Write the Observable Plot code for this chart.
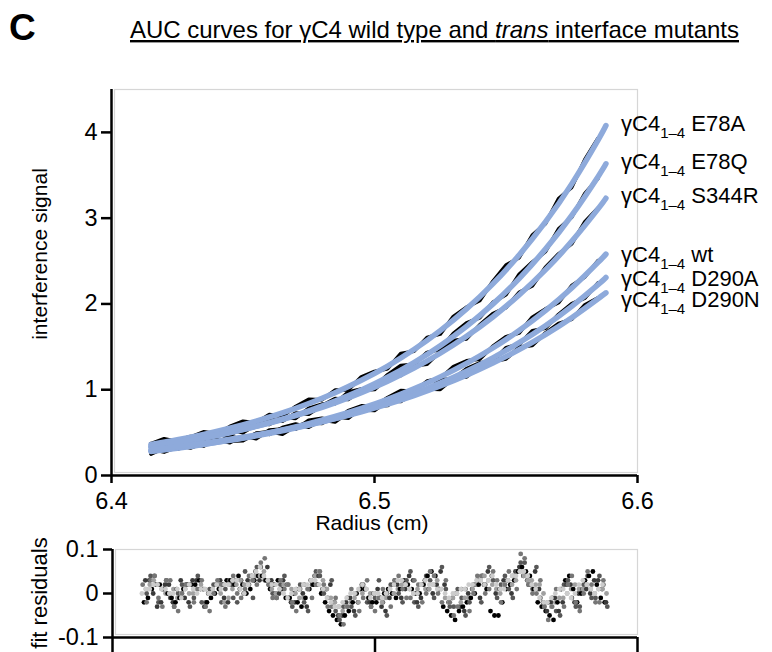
<!DOCTYPE html>
<html><head><meta charset="utf-8">
<script src="https://cdn.jsdelivr.net/npm/d3@7"></script>
<script src="https://cdn.jsdelivr.net/npm/@observablehq/plot@0.6"></script>
<style>
body{margin:0;background:#fff;}
#wrap{width:772px;height:652px;overflow:hidden;background:#fff;}
#wrap svg{display:block;}
</style></head><body>
<div id="wrap"></div>
<script>
// ---------- data ----------
const seriesNames = ["E78A","E78Q","S344R","wt","D290A","D290N"];

// fitted curves (interference signal vs radius)
const fitRadius = [6.415,6.425,6.435,6.445,6.455,6.465,6.475,6.485,6.495,6.505,6.515,6.525,6.535,6.545,6.555,6.565,6.575,6.585,6.588];
const fitE78A  = [0.362,0.416,0.479,0.551,0.634,0.729,0.839,0.965,1.110,1.276,1.468,1.689,1.942,2.234,2.570,2.956,3.400,3.911,4.080];
const fitE78Q  = [0.328,0.377,0.433,0.498,0.572,0.657,0.755,0.868,0.997,1.146,1.317,1.513,1.739,1.998,2.296,2.639,3.032,3.484,3.634];
const fitS344R = [0.341,0.388,0.442,0.504,0.574,0.653,0.744,0.847,0.965,1.099,1.251,1.425,1.623,1.848,2.105,2.397,2.730,3.108,3.232];
const fitWt    = [0.280,0.318,0.362,0.412,0.468,0.532,0.605,0.688,0.782,0.889,1.011,1.150,1.307,1.486,1.690,1.922,2.185,2.484,2.581];
const fitD290A = [0.285,0.322,0.363,0.410,0.462,0.522,0.589,0.664,0.750,0.846,0.955,1.077,1.216,1.372,1.548,1.747,1.972,2.225,2.308];
const fitD290N = [0.300,0.336,0.376,0.422,0.472,0.529,0.592,0.663,0.743,0.832,0.932,1.044,1.169,1.310,1.467,1.643,1.840,2.061,2.130];

// raw scans
const dataRadius = [6.415,6.420,6.425,6.430,6.435,6.440,6.445,6.450,6.455,6.460,6.465,6.470,6.475,6.480,6.485,6.490,6.495,6.500,6.505,6.510,6.515,6.520,6.525,6.530,6.535,6.540,6.545,6.550,6.555,6.560,6.565,6.570,6.575,6.580,6.585];
const dataE78A  = [0.372,0.429,0.396,0.447,0.509,0.485,0.571,0.632,0.614,0.711,0.689,0.804,0.889,0.882,0.995,0.997,1.150,1.213,1.246,1.422,1.448,1.608,1.649,1.855,1.962,2.038,2.264,2.452,2.540,2.803,2.936,3.228,3.360,3.685,3.931];
const dataE78Q  = [0.308,0.383,0.387,0.375,0.473,0.486,0.468,0.565,0.622,0.595,0.677,0.666,0.785,0.832,0.838,0.973,1.007,1.032,1.176,1.282,1.297,1.435,1.473,1.656,1.779,1.839,2.018,2.107,2.346,2.488,2.609,2.876,3.012,3.288,3.464];
const dataS344R = [0.371,0.345,0.408,0.455,0.412,0.483,0.534,0.499,0.594,0.654,0.633,0.729,0.714,0.816,0.897,0.886,0.995,1.002,1.139,1.165,1.281,1.298,1.445,1.574,1.593,1.756,1.888,1.957,2.135,2.211,2.427,2.584,2.700,2.959,3.118];
const dataWt    = [0.250,0.319,0.358,0.320,0.382,0.417,0.382,0.460,0.428,0.530,0.542,0.539,0.645,0.667,0.638,0.755,0.812,0.806,0.909,0.990,0.981,1.101,1.130,1.269,1.337,1.357,1.506,1.618,1.660,1.846,1.942,2.014,2.215,2.315,2.504];
const dataD290A = [0.305,0.273,0.332,0.372,0.343,0.426,0.400,0.406,0.492,0.512,0.482,0.575,0.619,0.606,0.684,0.667,0.790,0.808,0.816,0.930,0.975,0.986,1.117,1.126,1.246,1.314,1.332,1.490,1.528,1.687,1.717,1.879,2.002,2.068,2.245];
const dataD290N = [0.290,0.348,0.306,0.376,0.406,0.379,0.462,0.417,0.492,0.480,0.559,0.600,0.562,0.647,0.623,0.733,0.763,0.757,0.872,0.862,0.962,1.008,1.004,1.136,1.149,1.279,1.330,1.358,1.497,1.515,1.663,1.771,1.820,1.990,2.071];

// fit residuals, two interleaved radial grids
const residRadiusA = [6.412,6.415,6.418,6.421,6.424,6.427,6.430,6.433,6.436,6.439,6.442,6.445,6.448,6.451,6.454,6.457,6.460,6.463,6.466,6.469,6.472,6.475,6.478,6.481,6.484,6.487,6.490,6.493,6.496,6.499,6.502,6.505,6.508,6.511,6.514,6.517,6.520,6.523,6.526,6.529,6.532,6.535,6.538,6.541,6.544,6.547,6.550,6.553,6.556,6.559,6.562,6.565,6.568,6.571,6.574,6.577,6.580,6.583,6.586];
const residRadiusB = [6.4135,6.4165,6.4195,6.4225,6.4255,6.4285,6.4315,6.4345,6.4375,6.4405,6.4435,6.4465,6.4495,6.4525,6.4555,6.4585,6.4615,6.4645,6.4675,6.4705,6.4735,6.4765,6.4795,6.4825,6.4855,6.4885,6.4915,6.4945,6.4975,6.5005,6.5035,6.5065,6.5095,6.5125,6.5155,6.5185,6.5215,6.5245,6.5275,6.5305,6.5335,6.5365,6.5395,6.5425,6.5455,6.5485,6.5515,6.5545,6.5575,6.5605,6.5635,6.5665,6.5695,6.5725,6.5755,6.5785,6.5815,6.5845,6.5875];
const scanRadialShift = [0, 0.0005, 0.0010, -0.0005, 0.0007, -0.0008];

const resid1A = [-0.02,0.01,0.02,0.00,-0.02,0.01,0.02,0.03,-0.02,0.00,0.02,0.03,0.04,0.00,0.03,0.04,0.01,0.03,-0.01,0.00,-0.03,0.01,0.02,-0.02,-0.05,-0.07,-0.04,0.00,0.01,-0.02,-0.01,0.01,-0.01,0.03,0.01,0.00,0.04,0.04,-0.03,-0.05,-0.04,-0.02,0.00,0.04,-0.04,-0.05,0.01,0.03,0.06,0.04,-0.02,-0.04,-0.06,0.01,0.04,-0.02,0.03,0.05,-0.01];
const resid2A = [0.03,0.00,-0.02,0.02,0.01,-0.01,0.03,0.01,0.00,0.02,-0.01,0.02,0.01,0.03,0.05,0.04,0.03,0.00,0.02,-0.02,0.00,0.03,0.04,0.01,-0.02,-0.05,-0.01,-0.02,0.01,0.00,-0.03,-0.01,0.02,0.01,0.03,-0.01,0.01,0.02,0.02,-0.01,-0.03,0.00,0.02,0.02,0.04,0.01,0.03,0.05,0.04,0.02,0.01,-0.04,-0.01,-0.02,0.02,0.00,0.01,0.03,0.01];
const resid3A = [0.00,0.04,0.01,-0.01,0.00,0.02,-0.01,-0.02,0.01,0.02,0.01,-0.01,0.03,0.02,0.06,0.03,0.00,0.02,-0.01,0.01,-0.02,0.02,0.04,-0.01,-0.04,-0.03,-0.03,0.01,-0.02,-0.01,-0.02,0.02,0.00,0.03,-0.02,0.02,0.03,0.01,0.01,-0.03,-0.01,-0.02,0.03,0.02,0.03,0.02,0.01,0.05,0.07,0.01,-0.01,-0.02,-0.04,0.02,-0.01,-0.03,0.04,-0.01,0.02];
const resid4A = [0.02,0.03,-0.01,0.03,-0.03,0.00,0.02,0.01,-0.03,0.00,0.02,0.02,0.00,0.01,0.03,0.07,0.02,-0.01,0.01,-0.02,0.01,0.01,0.02,0.02,-0.03,-0.05,-0.03,0.00,-0.01,-0.03,-0.01,0.00,0.03,0.01,-0.01,0.02,0.00,0.04,-0.02,-0.02,-0.03,0.01,0.00,0.04,0.01,0.03,0.02,0.04,0.09,0.02,0.00,-0.03,-0.03,0.01,0.02,-0.02,0.00,0.02,-0.02];
const resid5A = [0.01,0.03,0.01,0.00,-0.01,0.01,0.00,0.02,0.00,0.02,-0.02,0.01,0.03,0.02,0.04,0.05,0.01,0.01,0.02,0.00,-0.01,0.03,0.05,0.01,-0.02,-0.04,-0.02,-0.02,0.01,0.00,-0.02,0.01,0.01,0.02,0.00,0.02,0.01,0.03,-0.01,-0.01,-0.02,-0.01,0.02,0.04,0.02,0.00,0.03,0.03,0.04,0.03,0.02,-0.02,-0.02,-0.01,0.01,0.01,0.02,0.00,0.01];
const resid6A = [0.00,0.01,0.02,0.01,0.00,-0.01,0.02,0.00,0.01,0.01,0.01,0.02,0.03,0.00,0.04,0.06,0.03,0.02,0.00,0.00,0.01,0.02,0.03,0.01,-0.02,-0.03,-0.01,0.00,0.02,-0.01,0.00,0.00,0.02,0.03,0.01,0.00,0.03,0.02,0.01,-0.01,0.00,0.01,0.02,0.03,0.03,0.02,0.01,0.04,0.05,0.04,0.01,-0.02,-0.01,0.01,0.00,0.00,0.03,0.01,0.01];
const resid1B = [-0.01,0.02,0.01,-0.01,-0.01,0.02,0.02,0.01,-0.01,0.01,0.03,0.02,0.02,0.01,0.04,0.03,0.02,0.01,-0.01,-0.02,-0.01,0.02,0.00,-0.04,-0.06,-0.05,-0.02,0.01,-0.01,-0.02,0.00,0.00,0.01,0.02,0.00,0.02,0.05,0.01,-0.04,-0.06,-0.03,-0.01,0.02,0.01,-0.05,-0.02,0.02,0.05,0.05,0.01,-0.03,-0.05,-0.02,0.03,0.01,0.00,0.04,0.02,-0.02];
const resid2B = [0.03,-0.03,0.02,-0.02,0.03,-0.02,0.03,-0.03,0.01,0.03,-0.02,0.03,0.00,0.04,0.03,0.06,0.00,0.03,-0.02,0.01,-0.03,0.04,0.01,0.02,-0.05,-0.02,-0.04,0.02,-0.02,0.01,-0.04,0.02,-0.01,0.04,-0.02,0.03,0.00,0.05,-0.02,0.00,-0.04,0.01,-0.01,0.05,0.00,0.03,0.00,0.06,0.03,0.05,-0.02,-0.02,-0.04,0.02,-0.02,0.01,0.00,0.03,-0.02];
const resid3B = [0.04,-0.02,0.03,-0.03,0.02,-0.03,0.04,-0.02,0.02,-0.02,0.03,-0.02,0.05,-0.01,0.06,0.02,-0.01,0.04,-0.03,0.02,-0.04,0.05,0.00,0.03,-0.06,-0.01,-0.05,0.02,-0.03,0.03,-0.05,0.03,-0.02,0.05,-0.03,0.04,-0.01,0.06,-0.03,0.01,-0.05,0.02,-0.02,0.06,-0.01,0.04,-0.01,0.07,0.02,0.06,-0.03,-0.01,-0.05,0.03,-0.03,0.02,-0.01,0.04,-0.03];
const resid4B = [-0.02,0.04,-0.03,0.03,-0.04,0.02,-0.02,0.03,-0.04,0.03,-0.03,0.04,-0.01,0.04,0.02,0.08,-0.01,0.03,0.02,-0.04,0.02,-0.01,0.05,-0.03,-0.01,-0.07,0.01,-0.04,0.03,-0.04,0.01,-0.03,0.04,-0.01,0.03,-0.02,0.05,0.00,0.03,-0.05,0.01,-0.04,0.04,0.00,0.05,-0.02,0.05,0.01,0.08,0.00,0.03,-0.06,0.01,-0.03,0.04,-0.04,0.05,-0.02,0.03];
const resid5B = [0.02,0.02,0.00,0.01,0.00,0.00,0.01,0.01,0.01,0.00,-0.01,0.02,0.02,0.03,0.04,0.03,0.00,0.02,0.01,-0.01,0.01,0.04,0.03,-0.01,-0.03,-0.03,-0.01,0.00,0.00,-0.01,-0.01,0.00,0.02,0.01,0.01,0.01,0.02,0.01,-0.02,0.00,-0.01,0.01,0.03,0.03,0.01,0.02,0.02,0.05,0.03,0.02,0.00,-0.03,-0.01,0.00,0.02,0.01,0.01,0.01,0.00];
const resid6B = [0.01,0.02,0.01,0.00,0.01,0.01,0.01,0.01,0.00,0.02,0.02,0.03,0.01,0.02,0.05,0.04,0.02,0.01,-0.01,0.01,0.02,0.03,0.02,-0.01,-0.03,-0.02,0.00,0.01,0.01,0.00,-0.01,0.01,0.03,0.02,0.00,0.02,0.02,0.01,0.00,0.00,0.01,0.02,0.03,0.02,0.04,0.01,0.03,0.04,0.05,0.02,-0.01,-0.02,0.00,0.01,-0.01,0.02,0.02,0.00,0.02];

const yTicks = [0,1,2,3,4];
const xTicks = [6.4,6.5,6.6];
const residTicks = [-0.1,0,0.1];

// ---------- tables ----------
const fits = [fitE78A,fitE78Q,fitS344R,fitWt,fitD290A,fitD290N];
const datas = [dataE78A,dataE78Q,dataS344R,dataWt,dataD290A,dataD290N];
const residsA = [resid1A,resid2A,resid3A,resid4A,resid5A,resid6A];
const residsB = [resid1B,resid2B,resid3B,resid4B,resid5B,resid6B];
const grays = ["#000000","#3a3a3a","#575757","#767676","#a0a0a0","#cccccc"];

const fitTable = seriesNames.flatMap((s,k)=>fitRadius.map((r,i)=>({s,r,v:fits[k][i]})));
const dataTable = seriesNames.flatMap((s,k)=>dataRadius.map((r,i)=>({s,r,v:datas[k][i]})));
const residTable = [];
residRadiusA.forEach((r,i)=>{
  residsA.forEach((a,k)=>residTable.push({r:r+scanRadialShift[k], v:a[i], c:grays[k]}));
  residsB.forEach((a,k)=>residTable.push({r:residRadiusB[i]+scanRadialShift[k], v:a[i], c:grays[k]}));
});

const FONT = '"Liberation Sans", Arial, Helvetica, sans-serif';
const BLUE = "#8eaadb";

// ---------- main panel ----------
const main = Plot.plot({
  width:772, height:530,
  marginLeft:111, marginRight:135, marginTop:89, marginBottom:55,
  x:{domain:[6.4,6.6]}, y:{domain:[0,4.5]},
  style:{fontFamily:FONT, fontSize:"23px", color:"#000", background:"transparent", overflow:"visible"},
  marks:[
    Plot.frame({stroke:"#d6d6d6", strokeWidth:1.2, insetLeft:3, insetBottom:3}),
    Plot.line(dataTable,{x:"r",y:"v",z:"s",stroke:"#000",strokeWidth:3.6,strokeLinejoin:"round"}),
    Plot.line(fitTable,{x:"r",y:"v",z:"s",stroke:BLUE,strokeWidth:5.5,curve:"natural",strokeLinecap:"round"}),
    Plot.ruleX([6.4],{y1:0,y2:4.5,strokeWidth:2.5}),
    Plot.ruleY([0],{x1:6.4,x2:6.6,strokeWidth:2.5}),
    Plot.axisY({ticks:yTicks, tickSize:10, tickPadding:4, fontSize:23.5, strokeWidth:2.5, label:null, tickFormat:d=>String(d)}),
    Plot.axisX({ticks:xTicks, tickSize:8, tickPadding:9, fontSize:23.5, strokeWidth:2.5, label:null, tickFormat:d=>d.toFixed(1)})
  ]
});

const wrap = document.getElementById("wrap");
wrap.appendChild(main);

const svg = d3.select(main);
const xs = main.scale("x"), ys = main.scale("y");

// panel letter and title
svg.append("text").attr("x",9).attr("y",40).attr("text-anchor","start").attr("font-family",FONT)
  .attr("font-weight","bold").attr("font-size",37).attr("fill","#000").text("C");
const title = svg.append("text").attr("x",130).attr("y",38).attr("text-anchor","start")
  .attr("font-family",'"Liberation Sans Narrow","Arial Narrow",'+FONT).attr("font-size",24)
  .attr("fill","#000").attr("text-decoration","underline")
  .attr("textLength",609).attr("lengthAdjust","spacingAndGlyphs");
title.append("tspan").text("AUC curves for \u03b3C4 wild type and ");
title.append("tspan").attr("font-style","italic").text("trans");
title.append("tspan").text(" interface mutants");

// axis titles
svg.append("text").attr("transform","translate(39,254) rotate(-90)").attr("text-anchor","middle")
  .attr("dominant-baseline","central").attr("font-family",FONT).attr("font-size",21).attr("fill","#000")
  .text("interference signal");
svg.append("text").attr("x",(xs.apply(6.4)+xs.apply(6.6))/2 - 2).attr("y",530).attr("text-anchor","middle")
  .attr("font-family",FONT).attr("font-size",21).attr("fill","#000").text("Radius (cm)");

// curve labels
const labelDy = [-1.5, -2, -2, 1, 1.5, 7];
seriesNames.forEach((name,k)=>{
  const end = fits[k][fits[k].length-1];
  const t = svg.append("text").attr("x",621).attr("y",ys.apply(end)+labelDy[k]+7.5).attr("text-anchor","start")
    .attr("font-family",FONT).attr("font-size",22).attr("fill","#000");
  t.append("tspan").text("\u03b3C4");
  t.append("tspan").attr("font-size",15).attr("dy",7).text("1\u20134");
  t.append("tspan").attr("dy",-7).text(" "+name);
});

// ---------- residual panel ----------
const res = Plot.plot({
  width:772, height:122,
  marginLeft:112, marginRight:135, marginTop:19, marginBottom:15,
  x:{domain:[6.4,6.6]}, y:{domain:[-0.1,0.1]},
  color:{type:"identity"},
  style:{fontFamily:FONT, fontSize:"23px", color:"#000", background:"transparent", overflow:"visible"},
  marks:[
    Plot.frame({stroke:"#d6d6d6", strokeWidth:1.2, insetLeft:3, insetBottom:3}),
    Plot.dot(residTable,{x:"r",y:"v",fill:"c",r:2.4}),
    Plot.ruleX([6.4],{y1:-0.1,y2:0.1,strokeWidth:2.5}),
    Plot.ruleY([-0.1],{x1:6.4,x2:6.6,strokeWidth:2.5}),
    Plot.axisY({ticks:residTicks, tickSize:9, tickPadding:5, fontSize:23.5, strokeWidth:2.5, label:null,
      tickFormat:d=> d===0 ? "0" : (d<0 ? "-"+Math.abs(d).toFixed(1) : d.toFixed(1))}),
    Plot.axisX({ticks:xTicks, tickSize:15, strokeWidth:2.5, label:null, tickFormat:()=>""})
  ]
});
wrap.appendChild(res);
d3.select(res).append("text").attr("transform","translate(39,63) rotate(-90)").attr("text-anchor","middle")
  .attr("dominant-baseline","central").attr("font-family",FONT).attr("font-size",22).attr("fill","#000")
  .text("fit residuals");
</script>
</body></html>
